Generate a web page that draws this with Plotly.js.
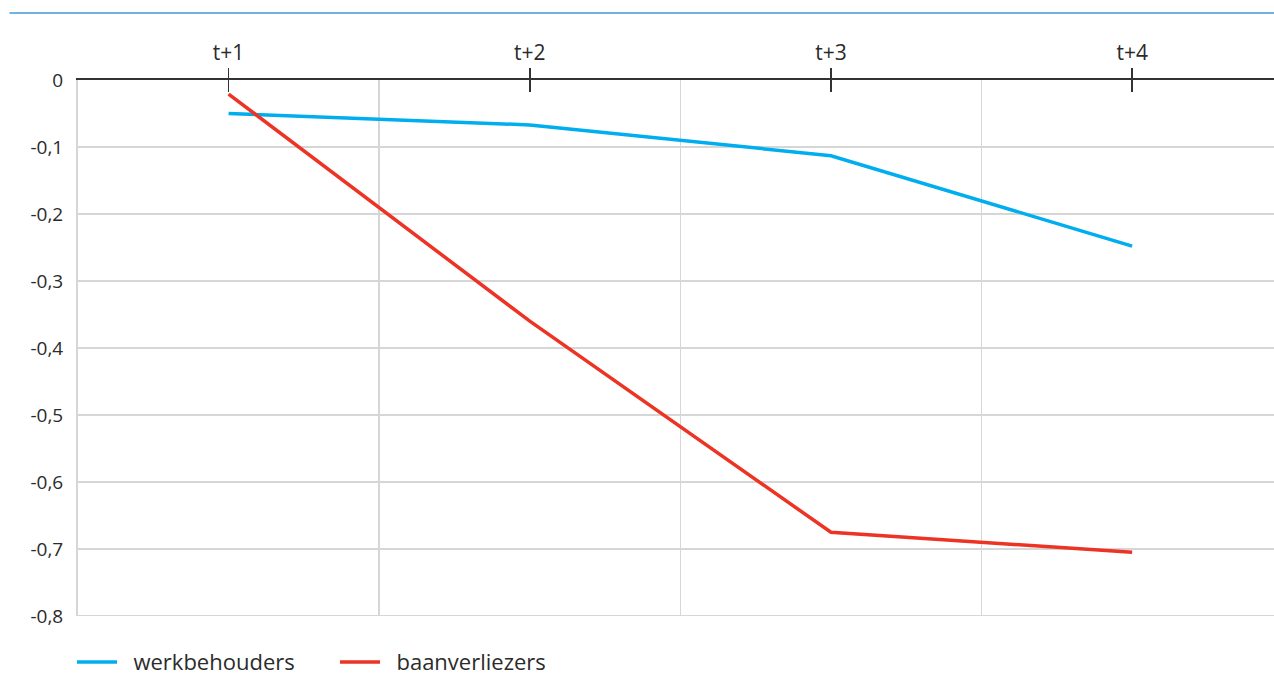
<!DOCTYPE html>
<html>
<head>
<meta charset="utf-8">
<script src="https://cdn.plot.ly/plotly-3.0.1.min.js"></script>
<style>html,body{margin:0;padding:0;overflow:hidden;background:#fff}#chart{width:1274px;height:677px}</style>
</head>
<body>
<div id="chart"></div>
<script>
const categories = ['t+1', 't+2', 't+3', 't+4'];
const seriesNames = ['werkbehouders', 'baanverliezers'];
const werkbehouders = [-0.05, -0.067, -0.113, -0.248];
const baanverliezers = [-0.021, -0.36, -0.675, -0.705];
const yTickVals = [0, -0.1, -0.2, -0.3, -0.4, -0.5, -0.6, -0.7, -0.8];
const yTickText = ['0', '-0,1', '-0,2', '-0,3', '-0,4', '-0,5', '-0,6', '-0,7', '-0,8'];

const xIdx = categories.map((c, i) => i);
const fam = 'Open Sans, sans-serif';
const txt = '#2b2b2b';
const grid = '#d6d6d6';

const traces = [
  {x: xIdx, y: werkbehouders, type: 'scatter', mode: 'lines', name: '\u00a0\u00a0' + seriesNames[0],
   line: {color: '#00aeef', width: 3.5}},
  {x: xIdx, y: baanverliezers, type: 'scatter', mode: 'lines', name: '\u00a0\u00a0' + seriesNames[1],
   line: {color: '#ec3324', width: 3.5}}
];

const xr = [-0.5, 3.471];
const layout = {
  width: 1274, height: 677,
  margin: {l: 77.5, r: 0, t: 80, b: 61},
  paper_bgcolor: '#ffffff', plot_bgcolor: '#ffffff',
  font: {family: fam, size: 19, color: txt},
  showlegend: true,
  legend: {orientation: 'h', x: -0.005, xanchor: 'left', yref: 'container', y: 0.022, yanchor: 'middle',
           font: {family: fam, size: 22, color: txt},
           entrywidth: 208, itemwidth: 40, traceorder: 'normal'},
  xaxis: {
    range: xr, side: 'top', anchor: 'y',
    tickmode: 'array', tickvals: xIdx, ticktext: categories,
    ticks: 'outside', ticklen: 11, tickwidth: 1.5, tickcolor: '#333333',
    showline: false, showgrid: false, zeroline: false,
    tickfont: {family: fam, size: 21, color: txt}, fixedrange: true,
    minor: {tick0: 0.5, dtick: 1, showgrid: true, gridcolor: grid, gridwidth: 1.5, ticks: ''}
  },
  xaxis2: {
    range: xr, side: 'top', overlaying: 'x', anchor: 'y',
    tickmode: 'array', tickvals: xIdx, ticktext: ['', '', '', ''],
    ticks: 'inside', ticklen: 12, tickwidth: 1.5, tickcolor: '#333333',
    showline: true, linecolor: '#333333', linewidth: 2,
    showgrid: false, zeroline: false, showticklabels: false
  },
  yaxis: {
    range: [-0.8, 0], tickmode: 'array', tickvals: yTickVals, ticktext: yTickText,
    ticks: '', showgrid: true, gridcolor: grid, gridwidth: 1.5,
    zeroline: false, showline: true, linecolor: grid, linewidth: 2,
    ticklabelstandoff: 9, tickfont: {family: fam, size: 19, color: txt}, fixedrange: true
  },
  shapes: [
    {type: 'line', xref: 'paper', yref: 'paper', x0: -0.0573, x1: 1.0, y0: 1.125, y1: 1.125,
     line: {color: '#3f9bd6', width: 1.5}},
    {type: 'line', xref: 'paper', yref: 'y', x0: 0, x1: 1, y0: yTickVals[yTickVals.length - 1], y1: yTickVals[yTickVals.length - 1],
     line: {color: grid, width: 2}, layer: 'below'}
  ]
};

traces.push({x: [0], y: [0], xaxis: 'x2', yaxis: 'y', type: 'scatter', mode: 'lines',
  showlegend: false, hoverinfo: 'skip', line: {width: 0}});

Plotly.newPlot('chart', traces, layout, {displayModeBar: false, staticPlot: true});
</script>
</body>
</html>
